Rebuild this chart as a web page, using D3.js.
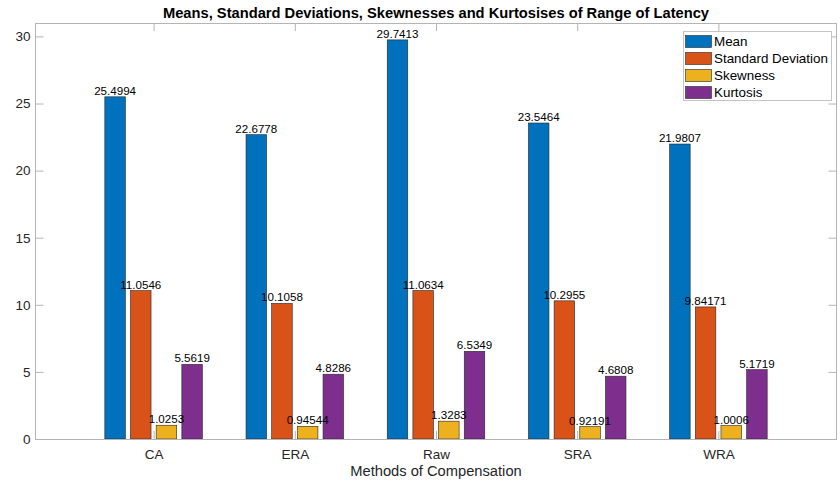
<!DOCTYPE html>
<html>
<head>
<meta charset="utf-8">
<script src="https://cdn.jsdelivr.net/npm/d3@7"></script>
<style>
  html, body { margin: 0; padding: 0; background: #fff; }
  svg { display: block; font-family: "Liberation Sans", Arial, Helvetica, sans-serif; }
</style>
</head>
<body>
<svg id="chart" width="840" height="485"></svg>
<script>
// Range-of-latency statistics per compensation method
const categories = ["CA", "ERA", "Raw", "SRA", "WRA"];
const seriesNames = ["Mean", "Standard Deviation", "Skewness", "Kurtosis"];
const meanValues = [25.4994, 22.6778, 29.7413, 23.5464, 21.9807];
const stdValues = [11.0546, 10.1058, 11.0634, 10.2955, 9.84171];
const skewValues = [1.0253, 0.94544, 1.3283, 0.92191, 1.0006];
const kurtValues = [5.5619, 4.8286, 6.5349, 4.6808, 5.1719];
const valueLabels = [
  ["25.4994", "22.6778", "29.7413", "23.5464", "21.9807"],
  ["11.0546", "10.1058", "11.0634", "10.2955", "9.84171"],
  ["1.0253", "0.94544", "1.3283", "0.92191", "1.0006"],
  ["5.5619", "4.8286", "6.5349", "4.6808", "5.1719"]
];
const yTicks = [0, 5, 10, 15, 20, 25, 30];

const series = [meanValues, stdValues, skewValues, kurtValues];
const colors = ["#0072BD", "#D95319", "#EDB120", "#7E2F8E"];

const W = 840, H = 485;
const margin = { top: 23, right: 3, bottom: 46, left: 35 };
const x0 = margin.left, x1 = W - margin.right;
const y0 = H - margin.bottom, y1 = margin.top;

const svg = d3.select("#chart");

// Category positions 1..n on a numeric axis, grouped bars offset within each group
const x = d3.scaleLinear().domain([0.16, 5.84]).range([x0, x1]);
const y = d3.scaleLinear().domain([0, 31]).range([y0, y1]);

const nSeries = series.length;
const groupWidth = Math.min(0.8, nSeries / (nSeries + 1.5));
const barWidth = groupWidth / nSeries * 0.8;
const offset = i => -groupWidth / 2 + (2 * i + 1) * groupWidth / (2 * nSeries);

const tickLen = 8;
const axisColor = "#b4b4b4";
const textColor = "#262626";

// Bars
series.forEach((vals, si) => {
  svg.append("g")
    .selectAll("rect")
    .data(vals)
    .join("rect")
    .attr("x", (d, ci) => x(ci + 1 + offset(si) - barWidth / 2))
    .attr("y", d => y(d))
    .attr("width", x(barWidth) - x(0))
    .attr("height", d => y(0) - y(d))
    .attr("fill", colors[si])
    .attr("stroke", "#262626")
    .attr("stroke-width", 0.6);
});

// Value labels above each bar
series.forEach((vals, si) => {
  svg.append("g")
    .selectAll("text")
    .data(vals)
    .join("text")
    .attr("x", (d, ci) => x(ci + 1 + offset(si)))
    .attr("y", d => y(d) - 2)
    .attr("text-anchor", "middle")
    .attr("font-size", "11.6px")
    .attr("fill", "#000")
    .text((d, ci) => valueLabels[si][ci]);
});

// Axes box
svg.append("rect")
  .attr("x", x0 + 0.5).attr("y", y1 + 0.5)
  .attr("width", x1 - x0 - 1).attr("height", y0 - y1)
  .attr("fill", "none")
  .attr("stroke", axisColor)
  .attr("stroke-width", 1);

// Bottom axis: labels, inward ticks on bottom and top
const xAxis = d3.axisBottom(x)
  .tickValues(categories.map((c, i) => i + 1))
  .tickFormat((d, i) => categories[i])
  .tickSize(-tickLen)
  .tickPadding(10);
const gx = svg.append("g").attr("transform", `translate(0,${y0})`).call(xAxis);
gx.select(".domain").remove();
gx.selectAll(".tick line").attr("stroke", axisColor);
gx.selectAll(".tick text").attr("fill", textColor).attr("font-size", "13.5px").attr("font-family", null);

const xAxisTop = d3.axisTop(x)
  .tickValues(categories.map((c, i) => i + 1))
  .tickFormat("")
  .tickSize(-tickLen);
const gxt = svg.append("g").attr("transform", `translate(0,${y1})`).call(xAxisTop);
gxt.select(".domain").remove();
gxt.selectAll(".tick line").attr("stroke", axisColor);

// Left axis with labels, right axis ticks only
const yAxis = d3.axisLeft(y).tickValues(yTicks).tickSize(-tickLen).tickPadding(5);
const gy = svg.append("g").attr("transform", `translate(${x0 + 0.5},0)`).call(yAxis);
gy.select(".domain").remove();
gy.selectAll(".tick line").attr("stroke", axisColor);
gy.selectAll(".tick text").attr("fill", textColor).attr("font-size", "13.5px").attr("font-family", null);

const yAxisR = d3.axisRight(y).tickValues(yTicks).tickSize(-tickLen).tickFormat("");
const gyr = svg.append("g").attr("transform", `translate(${x1 - 0.5},0)`).call(yAxisR);
gyr.select(".domain").remove();
gyr.selectAll(".tick line").attr("stroke", axisColor);

// Title and axis label
svg.append("text")
  .attr("x", (x0 + x1) / 2).attr("y", 18)
  .attr("text-anchor", "middle")
  .attr("font-size", "14.7px")
  .attr("font-weight", "bold")
  .attr("fill", "#000")
  .text("Means, Standard Deviations, Skewnesses and Kurtosises of Range of Latency");

svg.append("text")
  .attr("x", (x0 + x1) / 2).attr("y", 476)
  .attr("text-anchor", "middle")
  .attr("font-size", "14.7px")
  .attr("fill", textColor)
  .text("Methods of Compensation");

// Legend
const lg = svg.append("g").attr("transform", "translate(683,31)");
lg.append("rect")
  .attr("x", 0.5).attr("y", 0.5)
  .attr("width", 148).attr("height", 69)
  .attr("fill", "#fff")
  .attr("stroke", "#c4c4c4");
seriesNames.forEach((name, i) => {
  const row = lg.append("g").attr("transform", `translate(0,${4 + i * 17})`);
  row.append("rect")
    .attr("x", 2.5).attr("y", 0.5)
    .attr("width", 26).attr("height", 12)
    .attr("fill", colors[i])
    .attr("stroke", "#262626")
    .attr("stroke-width", 0.6);
  row.append("text")
    .attr("x", 31).attr("y", 11)
    .attr("font-size", "13.4px")
    .attr("fill", "#000")
    .text(name);
});
</script>
</body>
</html>
